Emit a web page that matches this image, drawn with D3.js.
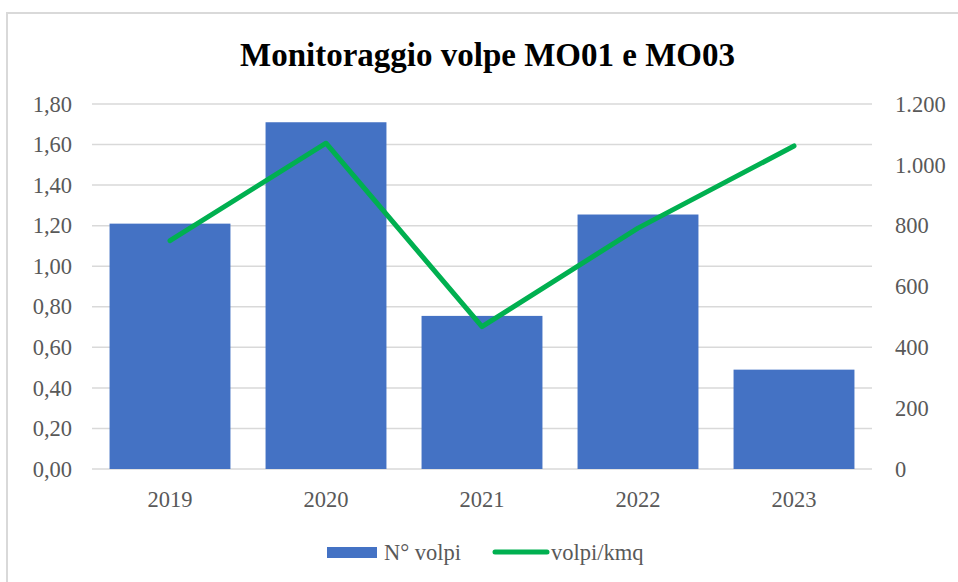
<!DOCTYPE html>
<html>
<head>
<meta charset="utf-8">
<script src="https://cdn.jsdelivr.net/npm/d3@7"></script>
<style>
html,body{margin:0;padding:0;background:#fff;}
svg{display:block;}
</style>
</head>
<body>
<svg id="chart" width="958" height="582"></svg>
<script>
const categories = ["2019", "2020", "2021", "2022", "2023"];
const volpiCount = [1.21, 1.71, 0.755, 1.255, 0.49];      // bars, left axis
const volpiKmq = [751, 1071, 468, 792, 1062];             // line, right axis
const leftTicks = [0, 0.2, 0.4, 0.6, 0.8, 1.0, 1.2, 1.4, 1.6, 1.8];
const rightTicks = [0, 200, 400, 600, 800, 1000, 1200];
const seriesNames = ["N° volpi", "volpi/kmq"];
const titleText = "Monitoraggio volpe MO01 e MO03";

const svg = d3.select("#chart");
const W = 958, H = 582;
const m = {left: 92, right: 86, top: 104, bottom: 113};
const pw = W - m.left - m.right, ph = H - m.top - m.bottom;
const textColor = "#595959";
const font = "'Liberation Serif', 'DejaVu Serif', serif";
const fs = 22.5;

// border
svg.append("rect").attr("x", 7).attr("y", 13).attr("width", W).attr("height", H)
  .attr("fill", "#fff").attr("stroke", "#d9d9d9").attr("stroke-width", 2);

svg.append("text").attr("x", 487.5).attr("y", 66).attr("text-anchor", "middle")
  .attr("font-family", font).attr("font-weight", "bold").attr("font-size", 33)
  .attr("fill", "#000").text(titleText);

const g = svg.append("g").attr("transform", `translate(${m.left},${m.top})`);

const x = d3.scaleBand().domain(categories).range([0, pw]).paddingInner(0.225).paddingOuter(0.1125);
const yL = d3.scaleLinear().domain([0, 1.8]).range([ph, 0]);
const yR = d3.scaleLinear().domain([0, 1200]).range([ph, 0]);

// gridlines
g.append("g").selectAll("line").data(leftTicks).join("line")
  .attr("x1", 0).attr("x2", pw)
  .attr("y1", d => yL(d)).attr("y2", d => yL(d))
  .attr("stroke", "#d9d9d9").attr("stroke-width", 1.5);

// left axis
const fmtL = d => d3.format(".2f")(d).replace(".", ",");
const axL = g.append("g").call(d3.axisLeft(yL).tickValues(leftTicks).tickFormat(fmtL).tickSize(0).tickPadding(20));
axL.select(".domain").remove();
axL.selectAll("text").attr("font-family", font).attr("font-size", fs).attr("fill", textColor);

// right axis
const fmtR = d => d3.format(",")(d).replace(/,/g, ".");
const axR = g.append("g").attr("transform", `translate(${pw},0)`)
  .call(d3.axisRight(yR).tickValues(rightTicks).tickFormat(fmtR).tickSize(0).tickPadding(23));
axR.select(".domain").remove();
axR.selectAll("text").attr("font-family", font).attr("font-size", fs).attr("fill", textColor);

// bars
g.append("g").selectAll("rect").data(categories).join("rect")
  .attr("x", d => x(d)).attr("width", x.bandwidth())
  .attr("y", (d, i) => yL(volpiCount[i]))
  .attr("height", (d, i) => ph - yL(volpiCount[i]))
  .attr("fill", "#4472c4");

// line
const line = d3.line().x((d, i) => x(categories[i]) + x.bandwidth() / 2).y(d => yR(d));
g.append("path").datum(volpiKmq).attr("d", line)
  .attr("fill", "none").attr("stroke", "#00b050").attr("stroke-width", 5)
  .attr("stroke-linecap", "round").attr("stroke-linejoin", "round");

// x axis
const axX = g.append("g").attr("transform", `translate(0,${ph})`)
  .call(d3.axisBottom(x).tickSize(0).tickPadding(22));
axX.select(".domain").remove();
axX.selectAll("text").attr("font-family", font).attr("font-size", fs).attr("fill", textColor);

// legend
const lg = svg.append("g");
lg.append("rect").attr("x", 327).attr("y", 547).attr("width", 50).attr("height", 11).attr("fill", "#4472c4");
lg.append("text").attr("x", 384).attr("y", 560).attr("font-family", font).attr("font-size", fs)
  .attr("fill", textColor).text(seriesNames[0]);
lg.append("line").attr("x1", 495).attr("x2", 547).attr("y1", 552).attr("y2", 552)
  .attr("stroke", "#00b050").attr("stroke-width", 5).attr("stroke-linecap", "round");
lg.append("text").attr("x", 551).attr("y", 560).attr("font-family", font).attr("font-size", fs)
  .attr("fill", textColor).text(seriesNames[1]);
</script>
</body>
</html>
